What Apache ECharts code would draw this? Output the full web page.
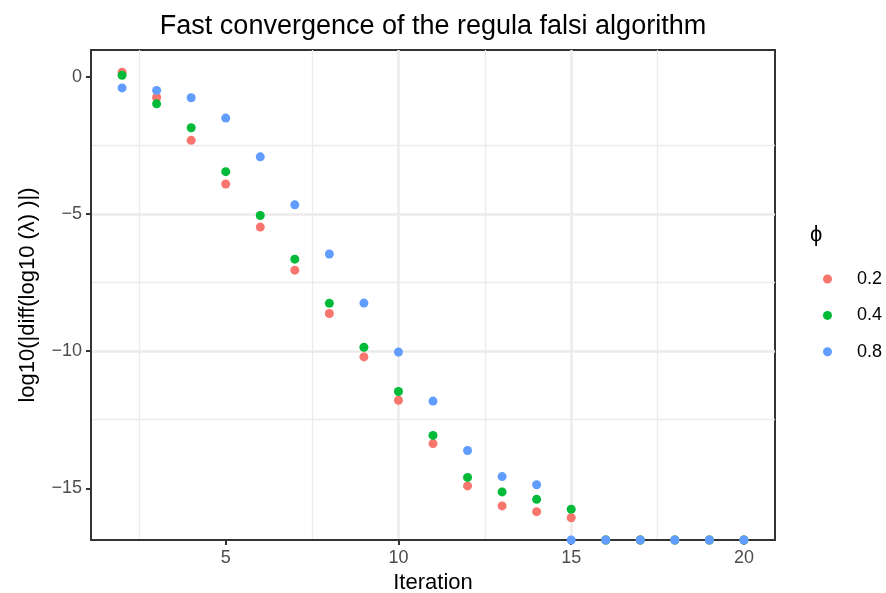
<!DOCTYPE html>
<html>
<head>
<meta charset="utf-8">
<script src="https://cdn.jsdelivr.net/npm/echarts@6/dist/echarts.min.js"></script>
<style>
  html, body { margin: 0; padding: 0; background: #fff; }
  #chart { width: 886px; height: 593px; }
</style>
</head>
<body>
<div id="chart"></div>
<script>
// iterations and log10 |diff| per phi; -Infinity = exact zero (drawn on the panel edge)
const iterations = [2, 3, 4, 5, 6, 7, 8, 9, 10, 11, 12, 13, 14, 15, 16, 17, 18, 19, 20];
const phi02 = [0.16, -0.76, -2.32, -3.91, -5.48, -7.05, -8.63, -10.21, -11.79, -13.37,
  -14.91, -15.64, -15.85, -16.07, -Infinity, -Infinity, -Infinity, -Infinity, -Infinity];
const phi04 = [0.05, -0.99, -1.86, -3.46, -5.06, -6.65, -8.26, -9.86, -11.47, -13.07,
  -14.60, -15.13, -15.40, -15.76, -Infinity, -Infinity, -Infinity, -Infinity, -Infinity];
const phi08 = [-0.41, -0.50, -0.77, -1.51, -2.92, -4.67, -6.46, -8.25, -10.03, -11.82,
  -13.62, -14.57, -14.87, -Infinity, -Infinity, -Infinity, -Infinity, -Infinity, -Infinity];
const legendLabels = ['0.2', '0.4', '0.8'];
const xTicks = [5, 10, 15, 20];
const yTicks = [0, -5, -10, -15];

const colors = ['#F8766D', '#00BA38', '#619CFF'];
const font = 'Liberation Sans, Arial, sans-serif';

// ggplot style 5% expansion of the range
let finite = [].concat(phi02, phi04, phi08).filter(v => isFinite(v));
let yLo = Math.min(...finite), yHi = Math.max(...finite);
let yMin = yLo - 0.05 * (yHi - yLo), yMax = yHi + 0.05 * (yHi - yLo);
let xLo = Math.min(...iterations), xHi = Math.max(...iterations);
let xMin = xLo - 0.05 * (xHi - xLo), xMax = xHi + 0.05 * (xHi - xLo);

function minusFmt(v) {
    return v < 0 ? '\u2212' + Math.abs(v) : String(v);
}

let myChart = echarts.init(document.getElementById('chart'));

let series = [phi02, phi04, phi08].map(function (vals, k) {
    return {
        name: legendLabels[k],
        type: 'scatter',
        symbol: 'circle',
        symbolSize: 9,
        clip: true,
        itemStyle: { color: colors[k], opacity: 1 },
        data: iterations.map((it, i) => [it, isFinite(vals[i]) ? vals[i] : yMin])
    };
});

let option = {
    animation: false,
    backgroundColor: '#ffffff',
    textStyle: { fontFamily: font },
    title: [{
        text: 'Fast convergence of the regula falsi algorithm',
        left: 433,
        textAlign: 'center',
        top: 13,
        padding: 0,
        textStyle: { fontSize: 27, fontWeight: 'normal', color: '#000', fontFamily: font }
    }, {
        text: '\u03D5',
        left: 810,
        top: 224,
        padding: 0,
        textStyle: { fontSize: 22, fontWeight: 'normal', color: '#000', fontFamily: font }
    }],
    legend: {
        orient: 'vertical',
        left: 823,
        top: 270,
        padding: 0,
        itemWidth: 9,
        itemHeight: 18,
        itemGap: 18.4,
        icon: 'circle',
        data: legendLabels,
        textStyle: { fontSize: 18, color: '#000', lineHeight: 18, padding: [0, 0, 0, 20], fontFamily: font }
    },
    grid: {
        left: 91,
        top: 50,
        width: 684,
        height: 490,
        outerBoundsMode: 'none',
        containLabel: false,
        show: true,
        backgroundColor: '#fff',
        borderColor: '#333333',
        borderWidth: 2
    },
    xAxis: {
        type: 'value',
        min: xMin,
        max: xMax,
        splitNumber: 4,
        name: 'Iteration',
        nameLocation: 'middle',
        nameGap: 30,
        nameTextStyle: { fontSize: 22, color: '#000', fontFamily: font },
        axisLine: { show: true, onZero: false, lineStyle: { color: '#333333', width: 2 } },
        axisTick: { show: true, inside: false, length: 5, customValues: xTicks, lineStyle: { color: '#333333', width: 2 } },
        axisLabel: { customValues: xTicks, fontSize: 18, color: '#4D4D4D', margin: 9, fontFamily: font },
        splitLine: { show: true, showMinLine: false, showMaxLine: false, lineStyle: { color: '#EBEBEB', width: 2.5 } },
        minorTick: { show: false, splitNumber: 2 },
        minorSplitLine: { show: true, lineStyle: { color: '#EBEBEB', width: 1.3 } }
    },
    yAxis: {
        type: 'value',
        min: yMin,
        max: yMax,
        splitNumber: 4,
        name: 'log10(|diff(log10 (\u03BB) )|)',
        nameLocation: 'middle',
        nameRotate: 90,
        nameGap: 52,
        nameTextStyle: { fontSize: 22, color: '#000', fontFamily: font },
        axisLine: { show: true, onZero: false, lineStyle: { color: '#333333', width: 2 } },
        axisTick: { show: true, inside: false, length: 5, customValues: yTicks, lineStyle: { color: '#333333', width: 2 } },
        axisLabel: { customValues: yTicks, fontSize: 18, color: '#4D4D4D', margin: 9, formatter: minusFmt, fontFamily: font },
        splitLine: { show: true, showMinLine: false, showMaxLine: false, lineStyle: { color: '#EBEBEB', width: 2.5 } },
        minorTick: { show: false, splitNumber: 2 },
        minorSplitLine: { show: true, lineStyle: { color: '#EBEBEB', width: 1.3 } }
    },
    series: series
};

myChart.setOption(option);
</script>
</body>
</html>
